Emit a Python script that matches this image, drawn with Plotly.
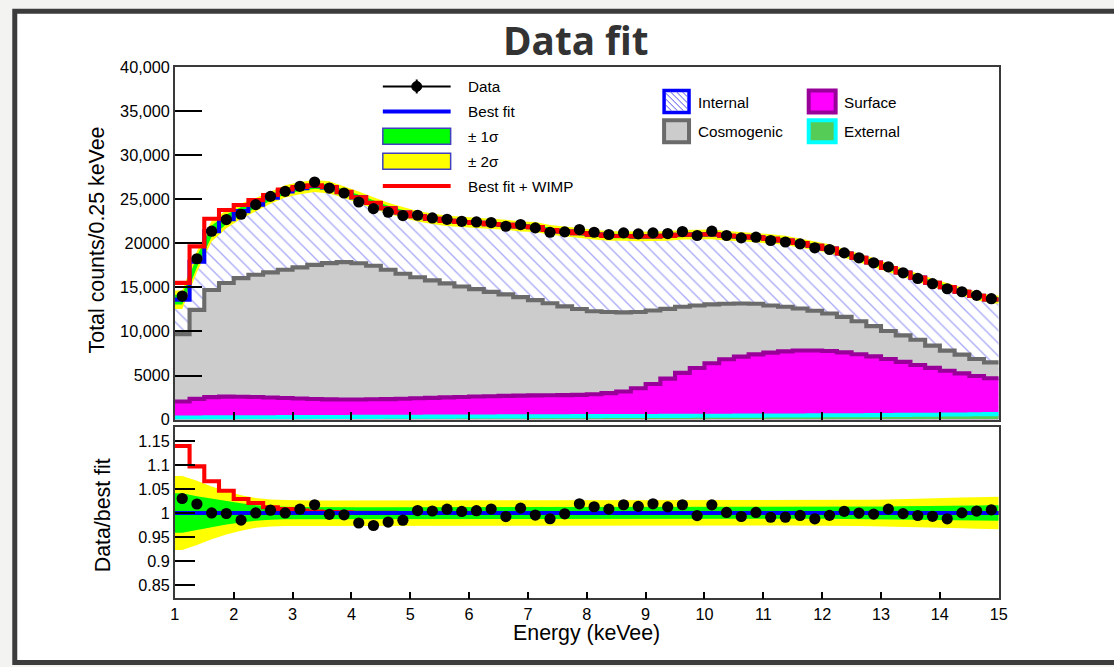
import numpy as np
import plotly.graph_objects as go

W, H = 1114, 667

# The captured page shows the figure slightly reduced and offset; layout
# positions below are given in captured-page pixels and converted here.
SX, OX = 0.990, 3.2
SY, OY = 0.977, 7.2
FS = 1 / 0.983          # font-size compensation for the reduction

# ---------------------------------------------------------------------------
# Energy binning (0.25 keVee bins, 1-15 keVee)
# ---------------------------------------------------------------------------
bin_edges = np.linspace(1.0, 15.0, 57)
bin_centers = 0.5 * (bin_edges[:-1] + bin_edges[1:])

# Observed counts per bin
data_counts = [14020, 18250, 21380, 22700, 23300, 24390, 25330, 25900, 26470, 26950,
               26270, 25710, 24690, 23940, 23525, 23150, 23185, 22880, 22730, 22500,
               22430, 22360, 21940, 22130, 21750, 21260, 21300, 21565, 21260, 21000,
               21185, 21070, 21185, 21110, 21340, 20890, 21375, 20890, 20620, 20700,
               20320, 20150, 19940, 19490, 19300, 18920, 18360, 17790, 17340, 16660,
               16020, 15420, 14850, 14510, 14100, 13720]

# Fitted background components (counts per bin)
external = [240, 245, 250, 255, 262, 268, 273, 280, 285, 290,
            297, 302, 308, 313, 320, 325, 330, 337, 342, 348,
            353, 358, 365, 370, 375, 380, 386, 392, 397, 402,
            408, 413, 418, 424, 430, 435, 440, 446, 452, 457,
            462, 468, 474, 480, 487, 495, 503, 512, 522, 533,
            545, 558, 572, 588, 604, 620]

surface = [1820, 2110, 2300, 2350, 2340, 2300, 2240, 2170, 2110, 2050,
           2000, 1980, 1970, 1990, 2010, 2050, 2090, 2130, 2180, 2220,
           2270, 2300, 2330, 2350, 2370, 2380, 2390, 2410, 2480, 2600,
           2790, 3140, 3630, 4230, 4870, 5420, 5960, 6400, 6700, 6940,
           7140, 7280, 7360, 7370, 7290, 7130, 6920, 6660, 6350, 6020,
           5660, 5310, 4980, 4660, 4350, 4080]

cosmogenic = [7640, 10100, 12150, 12900, 13450, 13860, 14190, 14550, 14880, 15220,
              15460, 15590, 15470, 15150, 14670, 14180, 13730, 13330, 12930, 12530,
              12180, 11840, 11510, 11180, 10810, 10440, 10070, 9750, 9420, 9200,
              8970, 8650, 8330, 7910, 7500, 7100, 6680, 6300, 6020, 5750,
              5350, 5050, 4770, 4500, 4270, 4030, 3730, 3430, 3180, 3010,
              2850, 2530, 2270, 2130, 1930, 1800]

internal = [3910, 5460, 6680, 7220, 7600, 7960, 8480, 8900, 8990, 8940,
            8590, 7940, 7470, 7130, 6980, 6950, 6920, 6990, 7100, 7330,
            7520, 7680, 7900, 8010, 8290, 8320, 8490, 8610, 8690, 8630,
            8660, 8580, 8410, 8280, 8180, 8050, 7940, 7720, 7600, 7530,
            7550, 7530, 7440, 7380, 7350, 7200, 7210, 7230, 7150, 7120,
            7050, 7130, 7210, 7130, 7160, 7130]

# Additional WIMP signal counts on top of the best fit
wimp = [1900, 1740, 1410, 1050, 690, 510, 300, 210, 130, 80,
        50, 30, 15, 8, 4, 2, 1, 0, 0, 0,
        0, 0, 0, 0, 0, 0, 0, 0, 0, 0,
        0, 0, 0, 0, 0, 0, 0, 0, 0, 0,
        0, 0, 0, 0, 0, 0, 0, 0, 0, 0,
        0, 0, 0, 0, 0, 0]

# Relative fit uncertainty (1 sigma and 2 sigma) per bin
sigma1_rel = [0.041, 0.035, 0.030, 0.024, 0.020, 0.016, 0.014, 0.013, 0.0125, 0.012,
              0.012, 0.012, 0.012, 0.012, 0.012, 0.012, 0.012, 0.012, 0.012, 0.012,
              0.012, 0.012, 0.012, 0.012, 0.012, 0.012, 0.012, 0.012, 0.012, 0.012,
              0.012, 0.012, 0.012, 0.012, 0.012, 0.012, 0.012, 0.012, 0.012, 0.012,
              0.012, 0.012, 0.012, 0.012, 0.012, 0.0125, 0.013, 0.013, 0.0135, 0.014,
              0.014, 0.0145, 0.015, 0.015, 0.0155, 0.016]
sigma2_rel = [0.077, 0.067, 0.055, 0.045, 0.037, 0.031, 0.028, 0.027, 0.026, 0.026,
              0.026, 0.026, 0.026, 0.026, 0.026, 0.026, 0.026, 0.026, 0.026, 0.026,
              0.026, 0.026, 0.026, 0.026, 0.026, 0.026, 0.026, 0.026, 0.026, 0.026,
              0.026, 0.026, 0.026, 0.026, 0.026, 0.026, 0.026, 0.026, 0.026, 0.026,
              0.026, 0.026, 0.026, 0.026, 0.026, 0.0265, 0.027, 0.0275, 0.028, 0.0285,
              0.029, 0.030, 0.031, 0.032, 0.033, 0.034]

# Axis tick labels
count_ticks = [0, 5000, 10000, 15000, 20000, 25000, 30000, 35000, 40000]
count_tick_text = ["0", "5000", "10,000", "15,000", "20000", "25,000", "30,000", "35,000", "40,000"]
ratio_ticks = [0.85, 0.9, 0.95, 1.0, 1.05, 1.1, 1.15]
ratio_tick_text = ["0.85", "0.9", "0.95", "1", "1.05", "1.1", "1.15"]
energy_ticks = list(range(1, 16))

# ---------------------------------------------------------------------------
# Derived quantities
# ---------------------------------------------------------------------------
ext_a = np.array(external, float)
surf_top = ext_a + np.array(surface, float)
cosmo_top = surf_top + np.array(cosmogenic, float)
best_fit = cosmo_top + np.array(internal, float)
fit_wimp = best_fit + np.array(wimp, float)
data_a = np.array(data_counts, float)
ratio = data_a / best_fit
s1 = np.array(sigma1_rel)
s2 = np.array(sigma2_rel)


def steps(vals):
    v = np.asarray(vals, float)
    return bin_edges, np.append(v, v[-1])


def band(lo, hi):
    """Closed polygon through bin centres, held flat to the frame edges."""
    xs = np.concatenate([[bin_edges[0]], bin_centers, [bin_edges[-1]]])
    lo_e = np.concatenate([[lo[0]], lo, [lo[-1]]])
    hi_e = np.concatenate([[hi[0]], hi, [hi[-1]]])
    return np.concatenate([xs, xs[::-1]]), np.concatenate([hi_e, lo_e[::-1]])


# Colours
C_HATCH = "#5050ee"
C_COSMO_FILL, C_COSMO_LINE = "#cccccc", "#6b6b6b"
C_SURF_FILL, C_SURF_LINE = "#ff00ff", "#990099"
C_EXT_FILL, C_EXT_LINE = "#55cc55", "#00ffff"
C_GREEN, C_YELLOW = "#00ff00", "#ffff00"
C_BLUE, C_RED = "#0000ff", "#ff0000"
LW = 4.1
MS = 11.2

fig = go.Figure()

# ---------------- upper panel: stacked fit ----------------
x, y = steps(best_fit)
fig.add_trace(go.Scatter(x=x, y=y, line_shape="hv", mode="lines", fill="tozeroy",
                         line=dict(width=0, color=C_BLUE), fillcolor="white",
                         fillpattern=dict(shape="\\", fgcolor=C_HATCH, bgcolor="white",
                                          size=9, solidity=0.15),
                         xaxis="x", yaxis="y", hoverinfo="skip"))
x, y = steps(cosmo_top)
fig.add_trace(go.Scatter(x=x, y=y, line_shape="hv", mode="lines", fill="tozeroy",
                         fillcolor=C_COSMO_FILL, line=dict(color=C_COSMO_LINE, width=LW),
                         xaxis="x", yaxis="y"))
x, y = steps(surf_top)
fig.add_trace(go.Scatter(x=x, y=y, line_shape="hv", mode="lines", fill="tozeroy",
                         fillcolor=C_SURF_FILL, line=dict(color=C_SURF_LINE, width=LW),
                         xaxis="x", yaxis="y"))
x, y = steps(ext_a)
fig.add_trace(go.Scatter(x=x, y=y, line_shape="hv", mode="lines", fill="tozeroy",
                         fillcolor=C_EXT_FILL, line=dict(color=C_EXT_LINE, width=LW),
                         xaxis="x", yaxis="y"))

# uncertainty bands on the total
bx, by = band(best_fit * (1 - s2), best_fit * (1 + s2))
fig.add_trace(go.Scatter(x=bx, y=by, fill="toself", fillcolor=C_YELLOW, mode="lines",
                         line=dict(width=0), xaxis="x", yaxis="y"))
bx, by = band(best_fit * (1 - s1), best_fit * (1 + s1))
fig.add_trace(go.Scatter(x=bx, y=by, fill="toself", fillcolor=C_GREEN, mode="lines",
                         line=dict(width=0), xaxis="x", yaxis="y"))

x, y = steps(best_fit)
fig.add_trace(go.Scatter(x=x, y=y, line_shape="hv", mode="lines",
                         line=dict(color=C_BLUE, width=LW), xaxis="x", yaxis="y"))
x, y = steps(fit_wimp)
fig.add_trace(go.Scatter(x=x, y=y, line_shape="hv", mode="lines",
                         line=dict(color=C_RED, width=LW), xaxis="x", yaxis="y"))
fig.add_trace(go.Scatter(x=bin_centers, y=data_a, mode="markers",
                         marker=dict(color="black", size=MS), xaxis="x", yaxis="y"))

# ---------------- lower panel: ratio ----------------
ones = best_fit / best_fit
bx, by = band(ones - s2, ones + s2)
fig.add_trace(go.Scatter(x=bx, y=by, fill="toself", fillcolor=C_YELLOW, mode="lines",
                         line=dict(width=0), xaxis="x2", yaxis="y2"))
bx, by = band(ones - s1, ones + s1)
fig.add_trace(go.Scatter(x=bx, y=by, fill="toself", fillcolor=C_GREEN, mode="lines",
                         line=dict(width=0), xaxis="x2", yaxis="y2"))
x, y = steps(fit_wimp / best_fit)
fig.add_trace(go.Scatter(x=x, y=y, line_shape="hv", mode="lines",
                         line=dict(color=C_RED, width=LW), xaxis="x2", yaxis="y2"))
x, y = steps(ones)
fig.add_trace(go.Scatter(x=x, y=y, line_shape="hv", mode="lines",
                         line=dict(color=C_BLUE, width=LW), xaxis="x2", yaxis="y2"))
fig.add_trace(go.Scatter(x=bin_centers, y=ratio, mode="markers",
                         marker=dict(color="black", size=MS), xaxis="x2", yaxis="y2"))


# ---------------------------------------------------------------------------
# Layout helpers (page pixel -> paper)
# ---------------------------------------------------------------------------
def px(v):
    return (v - OX) / SX / W


def py(v):
    return 1 - (v - OY) / SY / H


X0, X1 = 173.5, 999.5
TOP_Y0, TOP_Y1 = 65.5, 419.5
BOT_Y0, BOT_Y1 = 426.5, 599.0

FONT = "Liberation Sans, Arial, sans-serif"
FRAME = "#3a3a3a"
TICK_FONT = dict(family=FONT, size=16 * FS, color="black")
TITLE_FONT = dict(family=FONT, size=21 * FS, color="black")
LEG_FONT = dict(family=FONT, size=15 * FS, color="black")

axis_common = dict(showgrid=False, zeroline=False, showline=True, mirror=True,
                   linecolor=FRAME, linewidth=1.5, ticks="inside", tickcolor="black",
                   tickwidth=1.5, tickfont=TICK_FONT)

shapes = []
annotations = []

# page frame
shapes.append(dict(type="rect", xref="paper", yref="paper", layer="below",
                   x0=px(13), x1=px(1135), y0=py(9.5), y1=py(663.5),
                   line=dict(color="#3c3c3c", width=5), fillcolor="white"))

# title
annotations.append(dict(text="<b>Data fit</b>", x=px(576), y=py(38), xref="paper", yref="paper",
                        showarrow=False, xanchor="center", yanchor="middle",
                        font=dict(family="Open Sans, sans-serif", size=38 * FS, color="#333333")))

# axis titles
annotations.append(dict(text="Total counts/0.25 keVee", x=px(95), y=py(239), xref="paper",
                        yref="paper", showarrow=False, textangle=-90,
                        xanchor="center", yanchor="middle", font=TITLE_FONT))
annotations.append(dict(text="Data/best fit", x=px(101), y=py(516), xref="paper",
                        yref="paper", showarrow=False, textangle=-90,
                        xanchor="center", yanchor="middle", font=TITLE_FONT))
annotations.append(dict(text="Energy (keVee)", x=px(586), y=py(634), xref="paper",
                        yref="paper", showarrow=False, xanchor="center", yanchor="middle",
                        font=TITLE_FONT))


def leg_text(txt, x, y):
    annotations.append(dict(text=txt, x=px(x), y=py(y), xref="paper", yref="paper",
                            showarrow=False, xanchor="left", yanchor="middle", font=LEG_FONT))


def leg_line(y, color, width):
    shapes.append(dict(type="line", xref="paper", yref="paper", x0=px(382), x1=px(450),
                       y0=py(y), y1=py(y), line=dict(color=color, width=width)))


def leg_box(x0, x1, y0, y1, fill, line, lw):
    shapes.append(dict(type="rect", xref="paper", yref="paper", x0=px(x0), x1=px(x1),
                       y0=py(y1), y1=py(y0), fillcolor=fill, line=dict(color=line, width=lw)))


# legend: fit summary
leg_line(85, "black", 2)
shapes.append(dict(type="line", xref="paper", yref="paper", x0=px(416), x1=px(416),
                   y0=py(78), y1=py(92), line=dict(color="black", width=2)))
shapes.append(dict(type="circle", xref="paper", yref="paper", x0=px(411), x1=px(421),
                   y0=py(90), y1=py(80), fillcolor="black", line=dict(color="black", width=1)))
leg_text("Data", 465, 85)
leg_line(110, C_BLUE, 4)
leg_text("Best fit", 465, 110)
leg_box(382, 450, 127, 143, C_GREEN, "#4040c0", 1.5)
leg_text("± 1σ", 465, 135)
leg_box(382, 450, 152, 168, C_YELLOW, "#4040c0", 1.5)
leg_text("± 2σ", 465, 160)
leg_line(185, C_RED, 4)
leg_text("Best fit + WIMP", 465, 185)

# legend: background components
leg_box(664, 689, 89, 111, "white", C_BLUE, 3.5)
# hatch inside the Internal swatch
bx0, bx1, by0, by1 = 665.5, 687.5, 90.5, 109.5
for c in np.arange(bx0 - (by1 - by0), bx1, 6.0):
    xa, ya = c, by0
    if xa < bx0:
        ya, xa = by0 + (bx0 - xa), bx0
    xb, yb = c + (by1 - by0), by1
    if xb > bx1:
        yb, xb = by1 - (xb - bx1), bx1
    if xb > xa:
        shapes.append(dict(type="line", xref="paper", yref="paper", x0=px(xa), y0=py(ya),
                           x1=px(xb), y1=py(yb), line=dict(color=C_HATCH, width=1)))
leg_text("Internal", 696, 101)
leg_box(664, 689, 119, 141, C_COSMO_FILL, C_COSMO_LINE, 4)
leg_text("Cosmogenic", 696, 130)
leg_box(809, 836, 89, 111, C_SURF_FILL, C_SURF_LINE, 4)
leg_text("Surface", 842, 101)
leg_box(809, 836, 119, 141, C_EXT_FILL, C_EXT_LINE, 4)
leg_text("External", 842, 130)

fig.update_layout(
    width=W, height=H,
    margin=dict(l=0, r=0, t=0, b=0),
    paper_bgcolor="#f3f3f1",
    plot_bgcolor="white",
    showlegend=False,
    font=dict(family=FONT, color="black"),
    xaxis=dict(axis_common, domain=[px(X0), px(X1)], range=[1, 15], anchor="y",
               tickvals=energy_ticks, showticklabels=False, ticklen=8),
    yaxis=dict(axis_common, domain=[py(TOP_Y1), py(TOP_Y0)], range=[0, 40000], anchor="x",
               tickvals=count_ticks, ticktext=count_tick_text, ticklen=27),
    xaxis2=dict(axis_common, domain=[px(X0), px(X1)], range=[1, 15], anchor="y2",
                tickvals=energy_ticks, ticktext=[str(v) for v in energy_ticks], ticklen=7),
    yaxis2=dict(axis_common, domain=[py(BOT_Y1), py(BOT_Y0)], range=[0.822, 1.180],
                anchor="x2", tickvals=ratio_ticks, ticktext=ratio_tick_text, ticklen=20),
    shapes=shapes,
    annotations=annotations,
)

# match the page background around the figure
fig.write_html("out.html",
               post_script="document.body.style.background='#f3f3f1';")
